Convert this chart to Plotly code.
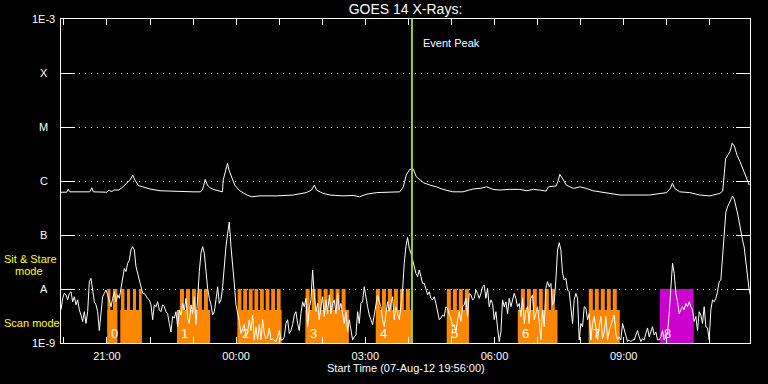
import numpy as np
import pandas as pd
import plotly.graph_objects as go

START = pd.Timestamp("2012-08-07 19:56:00")
END = pd.Timestamp("2012-08-08 11:56:00")
EVENT_PEAK = pd.Timestamp("2012-08-08 04:05:00")

# GOES 14 long channel (1-8 A): minutes after start, flux in W/m^2
long_minutes = [0, 8, 10, 12, 40, 43, 45, 64, 67, 71, 73, 80, 84, 91, 96, 100, 103, 108, 115, 124,
                138, 152, 166, 175, 184, 194, 197, 199, 201, 204, 207, 212, 217, 225, 226, 229, 232,
                234, 238, 242, 249, 259, 266, 277, 300, 323, 342, 349, 353, 356, 365, 375, 393, 407,
                416, 426, 440, 463, 472, 477, 481, 486, 491, 495, 500, 505, 514, 523, 532, 546, 560,
                574, 584, 593, 602, 611, 625, 639, 649, 658, 667, 676, 679, 690, 693, 695, 700, 704,
                709, 714, 723, 732, 741, 751, 765, 779, 797, 820, 844, 849, 852, 855, 862, 876, 890,
                904, 918, 922, 924, 926, 929, 932, 934, 935, 938, 942, 946, 950, 955, 959]
long_flux = [6.2e-7, 6.2e-7, 7.1e-7, 6.3e-7, 6.3e-7, 7.5e-7, 6.3e-7, 6.2e-7, 6.8e-7, 6.3e-7,
             6.8e-7, 6.8e-7, 7.3e-7, 9.1e-7, 1.04e-6, 1.29e-6, 1.04e-6, 8.2e-7, 7.6e-7, 7.1e-7,
             6.6e-7, 6.5e-7, 6.3e-7, 6.2e-7, 6.3e-7, 6.3e-7, 6.8e-7, 8.4e-7, 1.07e-6, 8.4e-7,
             7.6e-7, 7.0e-7, 6.8e-7, 6.3e-7, 1.04e-6, 1.6e-6, 2.13e-6, 1.6e-6, 1.12e-6, 8.4e-7,
             6.6e-7, 5.5e-7, 5.1e-7, 5.3e-7, 5.3e-7, 5.5e-7, 6.1e-7, 6.8e-7, 8.4e-7, 6.8e-7,
             5.9e-7, 5.5e-7, 5.3e-7, 5.4e-7, 5.1e-7, 5.7e-7, 6.1e-7, 6.2e-7, 6.3e-7, 7.8e-7,
             1.29e-6, 1.65e-6, 1.65e-6, 1.2e-6, 1.04e-6, 9.3e-7, 8.4e-7, 7.8e-7, 7.0e-7, 6.3e-7,
             6.3e-7, 7.1e-7, 7.3e-7, 7.8e-7, 7.0e-7, 6.8e-7, 7.0e-7, 7.0e-7, 6.6e-7, 7.0e-7,
             6.8e-7, 6.5e-7, 7.8e-7, 8.1e-7, 1.04e-6, 1.33e-6, 1.04e-6, 8.4e-7, 7.8e-7, 7.3e-7,
             7.8e-7, 7.3e-7, 6.6e-7, 6.3e-7, 5.9e-7, 5.5e-7, 5.5e-7, 5.5e-7, 6.1e-7, 7.3e-7,
             9.1e-7, 7.3e-7, 6.3e-7, 6.1e-7, 5.5e-7, 5.3e-7, 5.9e-7, 6.5e-7, 1.3e-6, 2.6e-6,
             3.0e-6, 3.5e-6, 4.3e-6, 5.0e-6, 4.5e-6, 3.0e-6, 2.3e-6, 1.7e-6, 1.15e-6, 8.4e-7]

# GOES 14 short channel (0.5-4 A): regular cadence, flux in units of 1e-9 W/m^2
short_cadence_s = 139.3
short_flux_nw = [
    4.1, 6.7, 8.3, 7.8, 6.3, 8.3, 8.9, 5.8, 7.2, 5.1,
    6.3, 4.1, 3.3, 2.5, 3.8, 2.3, 3.8, 13.7, 15.8, 9.6,
    5.8, 5.1, 3.8, 1.7, 3.8, 7.2, 8.3, 9.6, 7.8, 6.3,
    4.7, 6.7, 8.9, 5.8, 7.8, 6.7, 11, 17, 24, 21,
    30, 34, 53, 61, 53, 26, 19.5, 14.7, 11, 8.3,
    8.3, 7.2, 6.7, 6.3, 5.1, 2.7, 5.1, 4.7, 5.8, 4.1,
    3.8, 5.1, 4.7, 3.8, 3.5, 2.3, 1.6, 3.1, 2.9, 3.8,
    2.0, 4.1, 3.3, 5.4, 4.1, 6.7, 2.9, 2.3, 5.1, 3.5,
    7.2, 2.2, 8.3, 21, 46, 61, 46, 19.5, 10.3, 6.7,
    5.1, 3.3, 3.8, 6.3, 11, 5.4, 6.3, 11, 30, 61,
    107, 174, 61, 30, 12.7, 5.1, 3.8, 2.5, 1.5, 1.9,
    2.2, 1.3, 1.6,
    2.7, 1.7, 3.3, 1.14, 2.0, 1.14, 2.2, 1.14, 2.7, 1.5,
    1.2, 1.3, 1.9, 1.14, 1.2, 1.14, 1.06, 1.3, 1.7, 1.14,
    1.14, 1.3, 2.3, 2.7, 1.5, 1.7, 2.2, 3.3, 3.8, 2.3,
    1.7, 3.5, 5.8, 4.7, 6.7, 2.0, 4.4, 6.3, 22.5, 7.8,
    3.8, 5.4, 2.7, 4.7, 7.2, 3.1, 6.3, 3.5, 7.8, 3.5,
    5.4, 6.3, 3.5, 8.3, 4.1, 5.4, 3.8, 2.3, 3.8, 1.6,
    2.7, 1.7, 1.14, 1.3, 1.4, 3.8, 2.3, 5.4, 5.8, 11,
    6.7, 4.7, 3.3, 2.7, 2.2, 3.3, 4.7, 7.8, 5.8, 4.7,
    2.7, 2.0, 3.5, 5.8, 3.8, 5.1, 7.2, 2.7, 4.7, 3.5,
    2.7, 4.7, 9.6, 30, 61, 90, 57, 46, 34, 28,
    19.5, 17, 22.5, 17, 12.7, 12.7, 9.6, 7.8, 8.9, 6.7,
    6.3, 7.2, 5.4, 3.8, 2.7, 2.9, 3.3, 3.1, 4.7, 4.4,
    3.3, 2.9, 2.0, 2.2, 1.6, 2.7, 3.8, 2.5, 4.7, 5.1,
    6.7, 3.1, 8.3, 7.8, 6.3, 6.7, 9.6, 8.3, 6.7, 8.3,
    11, 11.8, 6.7, 10.3, 4.7, 6.3, 5.4, 2.7, 3.8, 1.9,
    1.06, 1.6, 6.3, 4.7, 5.8, 3.5, 6.7, 4.7, 6.3, 8.3,
    6.7, 4.7, 5.4, 3.1, 6.7, 2.3, 4.1, 4.7, 2.3, 6.7,
    7.8, 2.7, 3.5, 4.7, 2.5, 1.14, 4.1, 2.0, 10.3, 13.7,
    11, 12.7, 5.1, 5.8, 14.7, 53, 72, 53, 19.5, 14.7,
    15.8, 9.6, 8.9, 4.7, 2.3, 6.3, 8.3, 6.7, 1.14, 2.3,
    2.0, 4.7, 4.4, 2.7, 3.5, 1.14, 2.3, 3.1, 1.7, 1.14,
    2.0, 3.1, 1.2, 1.6, 3.1, 1.14, 1.7, 2.2, 2.7, 3.3,
    1.5, 1.14, 1.3, 1.14, 2.3, 1.7, 1.3, 1.06, 1.14, 1.06,
    1.14, 1.14, 1.4, 1.7, 1.3, 1.06, 1.2, 1.14, 1.5, 1.9,
    1.3, 1.7, 2.0, 1.4, 1.6, 1.14, 1.14, 1.3, 1.7, 1.14,
    1.3, 1.5, 3.5, 12.7, 30, 19.5, 8.3, 5.8, 3.5, 4.1,
    4.7, 4.1, 5.4, 4.7, 5.8, 4.7, 4.1, 2.5, 3.1, 1.7,
    3.8, 3.3, 2.3, 4.7, 2.0, 1.9, 1.14, 4.1, 6.3, 5.8,
    6.7, 8.9, 13.7, 14.7, 34, 100, 267, 330, 392, 464,
    527, 464, 360, 255, 174, 109, 81, 60, 31.6, 16,
    9.6, 7.1,
]

# Instrument observing intervals (minutes after start)
scan_intervals = [(64.5, 78.4), (82.6, 112.4), (161.6, 207.9), (246.1, 307.4), (340.8, 401.1),
                  (438.7, 488.4), (537.6, 568.3), (636.5, 691.8), (735.4, 778.6)]
stare_intervals = [
    (64.8, 68.9), (72.4, 78.4), (83.6, 88.4), (91.9, 96.1), (100.3, 104.5), (108.6, 112.4),
    (165.7, 171.3), (174.1, 179.7), (182.5, 188.0), (190.8, 196.4), (199.2, 204.7),
    (246.1, 251.4), (253.9, 259.2), (261.7, 267.0), (269.5, 274.8), (277.3, 282.6),
    (285.1, 290.4), (292.9, 298.2), (300.7, 306.0),
    (340.8, 346.4), (349.2, 354.8), (357.5, 363.1), (365.9, 371.5), (374.2, 379.8),
    (382.6, 388.2), (391.0, 396.5),
    (438.7, 444.3), (447.1, 452.7), (455.4, 461.0), (463.8, 469.4), (472.2, 477.7), (480.5, 486.1),
    (537.6, 543.2), (546.0, 551.6), (554.3, 559.9), (562.7, 568.3),
    (640.7, 646.3), (649.1, 654.6), (657.4, 663.0), (665.8, 671.3), (674.1, 679.7), (682.5, 688.0),
    (735.4, 741.0), (743.8, 749.3), (752.1, 757.7), (760.5, 766.0), (768.8, 774.4),
]
other_intervals = [(834.3, 881.6)]
block_labels = ["0", "1", "2", "3", "4", "5", "6", "7", "8"]
block_label_minutes = [64.5, 161.6, 246.1, 340.8, 438.7, 537.6, 636.5, 735.4, 834.3]

floor_level = 1e-9
scan_level = 4.1e-9
stare_level = 1e-8
label_level = 1.5e-9

y_tick_vals = [1e-9, 1e-8, 1e-7, 1e-6, 1e-5, 1e-4, 1e-3]
y_tick_text = ["1E-9", "A", "B", "C", "M", "X", "1E-3"]

ORANGE = "#ff8800"
MAGENTA = "#cc00cc"
YELLOW = "#ffff00"
GREEN = "#9acd32"
FONT = "Liberation Sans"


def t(m):
    return START + pd.Timedelta(minutes=m)


def rect_path(intervals, lo, hi):
    xs, ys = [], []
    for a, b in intervals:
        ta, tb = t(a), t(b)
        xs += [ta, tb, tb, ta, ta, None]
        ys += [lo, lo, hi, hi, lo, None]
    return xs, ys


fig = go.Figure()

for intervals, lo, hi, col in [(scan_intervals, floor_level, scan_level, ORANGE),
                                (stare_intervals, floor_level, stare_level, ORANGE),
                                (other_intervals, floor_level, stare_level, MAGENTA)]:
    xs, ys = rect_path(intervals, lo, hi)
    fig.add_trace(go.Scatter(x=xs, y=ys, mode="lines", fill="toself", fillcolor=col,
                             line=dict(width=0, color=col), hoverinfo="skip", showlegend=False))

long_times = [t(m) for m in long_minutes]
fig.add_trace(go.Scatter(x=long_times, y=long_flux, mode="lines",
                         line=dict(color="white", width=1), showlegend=False))

short_times = [START + pd.Timedelta(seconds=i * short_cadence_s) for i in range(len(short_flux_nw))]
short_flux = np.array(short_flux_nw) * 1e-9
fig.add_trace(go.Scatter(x=short_times, y=short_flux, mode="lines",
                         line=dict(color="white", width=1), showlegend=False))

fig.add_shape(type="line", xref="x", yref="paper", x0=EVENT_PEAK, x1=EVENT_PEAK, y0=0, y1=1,
              line=dict(color=GREEN, width=2), layer="above")

annotations = []
for v, txt in zip(y_tick_vals, y_tick_text):
    annotations.append(dict(xref="paper", yref="y", x=-0.0247, y=np.log10(v), text=txt,
                            showarrow=False, xanchor="center", yanchor="middle",
                            font=dict(color="white", size=11, family=FONT)))
for lab, m in zip(block_labels, block_label_minutes):
    annotations.append(dict(xref="x", yref="y", x=t(m), y=np.log10(label_level), text=lab,
                            showarrow=False, xanchor="left", yanchor="middle", xshift=2,
                            font=dict(color="white", size=13, family=FONT)))
annotations += [
    dict(xref="paper", yref="paper", x=-0.0856, y=0.259, text="Sit & Stare", showarrow=False,
         xanchor="left", yanchor="middle", font=dict(color=YELLOW, size=11, family=FONT)),
    dict(xref="paper", yref="paper", x=-0.0697, y=0.222, text="mode", showarrow=False,
         xanchor="left", yanchor="middle", font=dict(color=YELLOW, size=11, family=FONT)),
    dict(xref="paper", yref="paper", x=-0.0856, y=0.0617, text="Scan mode", showarrow=False,
         xanchor="left", yanchor="middle", font=dict(color=YELLOW, size=11, family=FONT)),
    dict(xref="x", yref="paper", x=EVENT_PEAK, y=0.926, text="Event Peak", showarrow=False,
         xanchor="left", yanchor="middle", xshift=9, font=dict(color="white", size=11, family=FONT)),
    dict(xref="paper", yref="paper", x=0.5, y=-0.077,
         text="Start Time (" + START.strftime("%d-%b-%y %H:%M:%S") + ")", showarrow=False,
         xanchor="center", yanchor="middle", font=dict(color="white", size=11, family=FONT)),
]

fig.update_layout(
    width=768, height=384,
    margin=dict(l=61, r=18, t=19, b=41),
    paper_bgcolor="black", plot_bgcolor="black",
    title=dict(text="GOES 14 X-Rays:", x=0.5, xref="paper", y=1 - 9 / 384, yanchor="middle",
               font=dict(color="white", size=14, family=FONT)),
    annotations=annotations,
    showlegend=False,
)
fig.update_xaxes(
    type="date", range=[START, END],
    tick0="2012-08-07 21:00:00", dtick=3 * 3600 * 1000, tickformat="%H:%M",
    ticks="inside", ticklen=6, tickcolor="white", tickwidth=1,
    minor=dict(tick0="2012-08-07 20:00:00", dtick=3600 * 1000, ticks="inside", ticklen=6,
               tickcolor="white", showgrid=False),
    showline=True, linecolor="white", linewidth=1, mirror="ticks",
    showgrid=False, zeroline=False,
    tickfont=dict(color="white", size=11, family=FONT),
    ticklabelstandoff=3,
)
fig.update_yaxes(
    type="log", range=[-9, -3],
    tickvals=y_tick_vals, showticklabels=False,
    ticks="inside", ticklen=14, tickcolor="white", tickwidth=1,
    showline=True, linecolor="white", linewidth=1, mirror="ticks",
    showgrid=True, gridcolor="white", gridwidth=1, griddash="1px,5px",
    zeroline=False,
)

fig.write_html("out.html")
